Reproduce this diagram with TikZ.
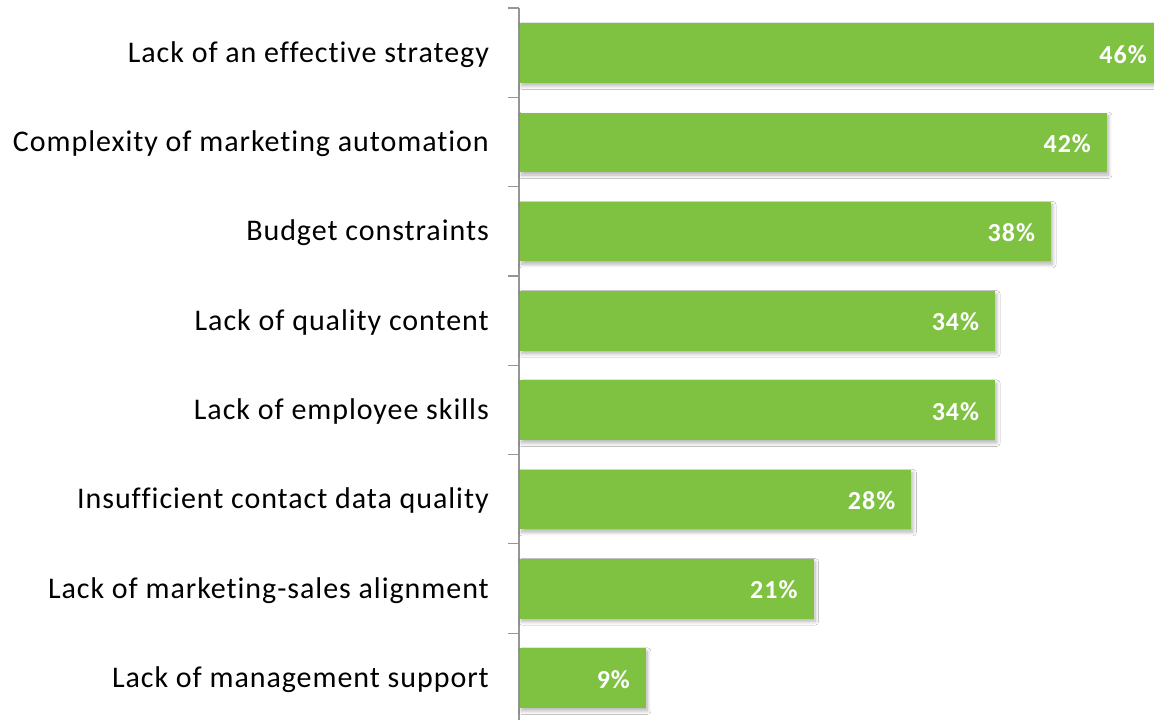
\documentclass[tikz,border=0pt]{standalone}
\usepackage{fontspec}
\setmainfont{Carlito}[Ligatures=NoCommon]
\newfontfamily\catfont{Carlito}[Ligatures=NoCommon, LetterSpace=3.2]
\newfontfamily\valfont{Carlito}[Ligatures=NoCommon, LetterSpace=4]
\usetikzlibrary{shadows.blur}
\definecolor{bargreen}{RGB}{127,193,65}
\definecolor{axisgrey}{RGB}{150,150,150}
\tikzset{
  x=1pt, y=-1pt,
  bar/.style={fill=bargreen, draw=none, inner sep=0pt, minimum height=59.5pt, anchor=west,
    blur shadow={shadow xshift=1.5pt, shadow yshift=-3pt, shadow blur steps=10, shadow opacity=30, shadow blur radius=3.5pt}},
  val/.style={text=white, font=\fontsize{26}{30}\valfont\bfseries, inner sep=0pt, anchor=base east},
  cat/.style={text=black, font=\fontsize{30}{36}\catfont, inner sep=0pt, anchor=base east},
  axisline/.style={draw=axisgrey, line width=1.2pt},
}
\begin{document}
\begin{tikzpicture}
\useasboundingbox (0,0) rectangle (1154,720);
\clip (0,0) rectangle (1154,720);
\fill[white] (0,0) rectangle (1154,720);
% axis
\coordinate (atop) at (519,8);
\coordinate (abot) at (519,720);
\draw[axisline] (atop) -- (abot);
\foreach \k in {0,...,7} {
  \coordinate (tl\k) at (508,{8+89.3*\k});
  \coordinate (tr\k) at (519,{8+89.3*\k});
  \draw[axisline] (tl\k) -- (tr\k);
}
% bars
\foreach \i/\v/\t in {
  1/46/Lack of an effective strategy,
  2/42/Complexity of marketing automation,
  3/38/Budget constraints,
  4/34/Lack of quality content,
  5/34/Lack of employee skills,
  6/28/Insufficient contact data quality,
  7/21/Lack of marketing-sales alignment,
  8/9/Lack of management support} {
  \pgfmathsetmacro{\cy}{53+89.3*(\i-1)}
  \pgfmathsetmacro{\w}{13.97*\v}
  \node[bar, minimum width=\w pt] (b\i) at (520,\cy) {};
  \node[val] (v\i) at ([xshift=-16pt, yshift=-10pt]b\i.east) {\v\%};
  \node[cat] (l\i) at (489,\cy+9.3) {\t};
}
\end{tikzpicture}
\end{document}
